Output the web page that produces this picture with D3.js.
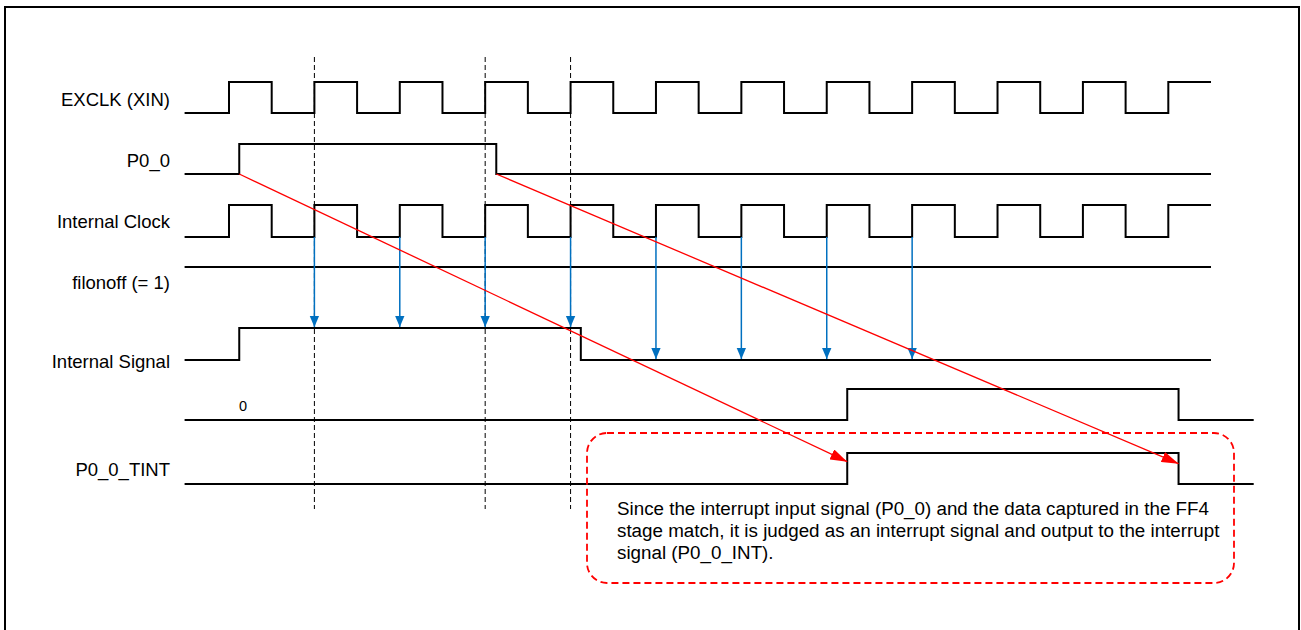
<!DOCTYPE html>
<html><head><meta charset="utf-8">
<script src="https://cdn.jsdelivr.net/npm/d3@7"></script>
<style>html,body{margin:0;padding:0;background:#fff;} svg{display:block;}</style>
</head><body>
<svg id="c" width="1301" height="630"></svg>
<script>
// ---------------- data ----------------
const signalNames = ["EXCLK (XIN)", "P0_0", "Internal Clock", "filonoff (= 1)", "Internal Signal", "", "P0_0_TINT"];
const exclkEdges = [0, 0.5, 1, 1.5, 2, 2.5, 3, 3.5, 4, 4.5, 5, 5.5, 6, 6.5, 7, 7.5, 8, 8.5, 9, 9.5, 10, 10.5, 11];
const p0Edges = [0.12, 3.13];
const intClockEdges = [0, 0.5, 1, 1.5, 2, 2.5, 3, 3.5, 4, 4.5, 5, 5.5, 6, 6.5, 7, 7.5, 8, 8.5, 9, 9.5, 10, 10.5, 11];
const filonoffEdges = [];
const intSignalEdges = [0.12, 4.12];
const ff4Edges = [7.24, 11.12];
const tintEdges = [7.24, 11.12];
const startLevels = [0, 0, 0, 1, 0, 0, 0];
const startTime = -0.52;
const endTimes = [11.5, 11.5, 11.5, 11.5, 11.5, 12, 12];
const sampleTimes = [1, 2, 3, 4, 5, 6, 7, 8];        // blue sampling arrows
const markerTimes = [1, 3, 4];                        // dashed reference lines
const causeFrom = [0.12, 3.13];                       // red arrows: P0_0 edges
const causeTo = [7.24, 11.12];                        //            -> P0_0_TINT edges
const rowSixValue = "0";
const noteLines = [
  "Since the interrupt input signal (P0_0) and the data captured in the FF4",
  "stage match, it is judged as an interrupt signal and output to the interrupt",
  "signal (P0_0_INT)."
];

// ---------------- layout ----------------
const rowLow  = [113, 174, 237, 267, 360, 420, 484];
const rowHigh = [82, 144, 205, 267, 328, 389, 453];
const labelBaseline = [106, 167, 228, 289, 368, 0, 476];
const FONT = "'Liberation Sans', Arial, Helvetica, sans-serif";

const svg = d3.select("#c");
const x = d3.scaleLinear().domain([0, 12]).range([229, 1253.7]);
const yRow = i => d3.scaleLinear().domain([0, 1]).range([rowLow[i], rowHigh[i]]);

const defs = svg.append("defs");
defs.append("marker").attr("id", "blueHead").attr("markerUnits", "userSpaceOnUse")
  .attr("markerWidth", 12).attr("markerHeight", 14).attr("refX", 13).attr("refY", 5.5)
  .attr("orient", "auto").attr("viewBox", "0 0 14 11")
  .append("path").attr("d", "M0,0 L13,5.5 L0,11 Z").attr("fill", "#0070C0");
defs.append("marker").attr("id", "redHead").attr("markerUnits", "userSpaceOnUse")
  .attr("markerWidth", 17).attr("markerHeight", 11).attr("refX", 17).attr("refY", 5.5)
  .attr("orient", "auto").attr("viewBox", "0 0 17 11")
  .append("path").attr("d", "M0,0 L17,5.5 L0,11 Z").attr("fill", "#FF0000");

// frame
svg.append("path").attr("d", "M5,640 V7 H1299 V640")
  .attr("fill", "none").attr("stroke", "#000").attr("stroke-width", 2);

// waveforms
const allEdges = [exclkEdges, p0Edges, intClockEdges, filonoffEdges, intSignalEdges, ff4Edges, tintEdges];
const line = d3.line().x(d => x(d[0])).y(d => d[1]).curve(d3.curveStepAfter);
allEdges.forEach((edges, i) => {
  const y = yRow(i);
  let lvl = startLevels[i];
  const pts = [[startTime, y(lvl)]];
  edges.forEach(t => { lvl = 1 - lvl; pts.push([t, y(lvl)]); });
  pts.push([endTimes[i], y(lvl)]);
  svg.append("path").attr("d", line(pts)).attr("fill", "none")
    .attr("stroke", "#000").attr("stroke-width", 2);
});

// labels
svg.selectAll("text.lbl").data(signalNames).enter().append("text")
  .attr("class", "lbl").attr("x", 170).attr("y", (d, i) => labelBaseline[i])
  .attr("text-anchor", "end").attr("font-family", FONT).attr("font-size", 18.5)
  .attr("fill", "#000").text(d => d);

svg.append("text").attr("x", 243).attr("y", 411).attr("text-anchor", "middle")
  .attr("font-family", FONT).attr("font-size", 14.5).text(rowSixValue);

// dashed reference lines
svg.selectAll("line.mk").data(markerTimes).enter().append("line")
  .attr("class", "mk").attr("x1", d => x(d)).attr("x2", d => x(d))
  .attr("y1", 57).attr("y2", 509).attr("stroke", "#000").attr("stroke-width", 1)
  .attr("stroke-dasharray", "5,3");

// blue sampling arrows
const sigLevelAt = t => {
  let lvl = startLevels[4];
  intSignalEdges.forEach(e => { if (e <= t) lvl = 1 - lvl; });
  return lvl;
};
svg.selectAll("line.smp").data(sampleTimes).enter().append("line")
  .attr("class", "smp").attr("x1", d => x(d)).attr("x2", d => x(d))
  .attr("y1", yRow(2)(0)).attr("y2", d => yRow(4)(sigLevelAt(d)) - 1)
  .attr("stroke", "#0070C0").attr("stroke-width", 1.5)
  .attr("marker-end", "url(#blueHead)");

// red cause arrows
svg.selectAll("line.cause").data(causeFrom).enter().append("line")
  .attr("class", "cause")
  .attr("x1", d => x(d)).attr("y1", yRow(1)(0))
  .attr("x2", (d, i) => x(causeTo[i])).attr("y2", (d, i) => yRow(6)(0.72) + i * 2)
  .attr("stroke", "#FF0000").attr("stroke-width", 1.3)
  .attr("marker-end", "url(#redHead)");

// annotation box
svg.append("rect").attr("x", 587).attr("y", 433).attr("width", 647).attr("height", 150)
  .attr("rx", 20).attr("ry", 20).attr("fill", "none")
  .attr("stroke", "#FF0000").attr("stroke-width", 1.8).attr("stroke-dasharray", "7,4");

svg.selectAll("text.note").data(noteLines).enter().append("text")
  .attr("class", "note").attr("x", 617).attr("y", (d, i) => 515 + i * 22)
  .attr("font-family", FONT).attr("font-size", 18.8).attr("fill", "#000").text(d => d);
</script>
</body></html>
